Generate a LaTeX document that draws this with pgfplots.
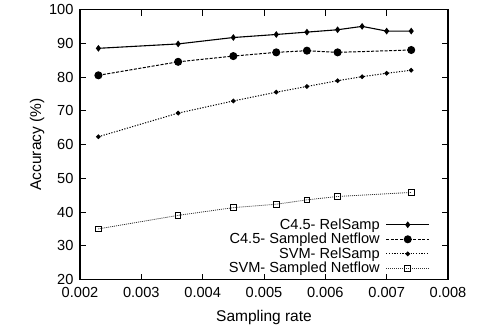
\documentclass[border=0pt]{standalone}
\usepackage{fontspec}
\setmainfont{Liberation Sans}
\usepackage{pgfplots}
\pgfplotsset{compat=1.18}
\begin{document}
\begin{tikzpicture}
\begin{axis}[
  name=ax,
  scale only axis,
  width=368pt, height=270pt,
  xmin=0.002, xmax=0.008, ymin=20, ymax=100,
  xtick={0.002,0.003,...,0.008},
  ytick={20,30,...,100},
  xticklabel style={/pgf/number format/fixed, /pgf/number format/precision=3, /pgf/number format/fixed zerofill, yshift=-4pt},
  yticklabel style={xshift=-3pt},
  scaled x ticks=false,
  /pgf/number format/assume math mode=true,
  tick align=inside,
  major tick length=6pt,
  minor tick num=0,
  tick label style={font=\fontsize{14.6}{16}\selectfont},
  label style={font=\fontsize{15.5}{17}\selectfont},
  axis line style={line width=1.3pt},
  every tick/.style={black, line width=0.8pt},
  xlabel={Sampling rate},
  ylabel={Accuracy (\%)},
  xlabel style={yshift=-6pt},
  ylabel style={yshift=-2pt},
  legend style={draw=none, fill=none, at={(1,0)}, anchor=south east, font=\fontsize{14.6}{13}\selectfont, row sep=-1.6pt, xshift=-18pt, yshift=3pt, inner sep=0pt, /tikz/every odd column/.append style={column sep=4pt}},
  legend cell align=right,
  legend plot pos=right,
  every axis plot/.append style={legend image code/.code={\draw[mark repeat=2,mark phase=2,##1] plot coordinates {(0pt,0pt)(21.5pt,0pt)(43pt,0pt)};}},
]
\addplot[black, line width=1.1pt, mark=diamond*, mark size=2.5pt] coordinates {
(0.0023,88.5)(0.0036,89.8)(0.0045,91.7)(0.0052,92.6)(0.0057,93.3)(0.0062,94.0)(0.0066,95.0)(0.0070,93.6)(0.0074,93.6)};
\addlegendentry{C4.5- RelSamp}
\addplot[black, line width=1.0pt, dash pattern=on 3pt off 1.5pt, mark=*, mark size=3.5pt, mark options={solid}] coordinates {
(0.0023,80.5)(0.0036,84.5)(0.0045,86.2)(0.0052,87.3)(0.0057,87.8)(0.0062,87.3)(0.0074,88.0)};
\addlegendentry{C4.5- Sampled Netflow}
\addplot[black, line width=1.0pt, dash pattern=on 1.2pt off 1.5pt, mark=*, mark size=1.8pt, mark options={solid}] coordinates {
(0.0023,62.3)(0.0036,69.3)(0.0045,72.9)(0.0052,75.5)(0.0057,77.2)(0.0062,78.9)(0.0066,80.1)(0.0070,81.1)(0.0074,82.0)};
\addlegendentry{SVM- RelSamp}
\addplot[black!80, line width=0.8pt, dash pattern=on 1pt off 1pt, mark=square, mark size=2.8pt, mark options={solid, black, line width=1pt}] coordinates {
(0.0023,35.0)(0.0036,39.0)(0.0045,41.3)(0.0052,42.3)(0.0057,43.6)(0.0062,44.6)(0.0074,45.8)};
\addlegendentry{SVM- Sampled Netflow}
\end{axis}
\path (ax.south west) +(-80pt,-46pt) coordinate (bbA);
\path (ax.north east) +(29pt,9.5pt) coordinate (bbB);
\path (bbA) rectangle (bbB);
\end{tikzpicture}
\end{document}
